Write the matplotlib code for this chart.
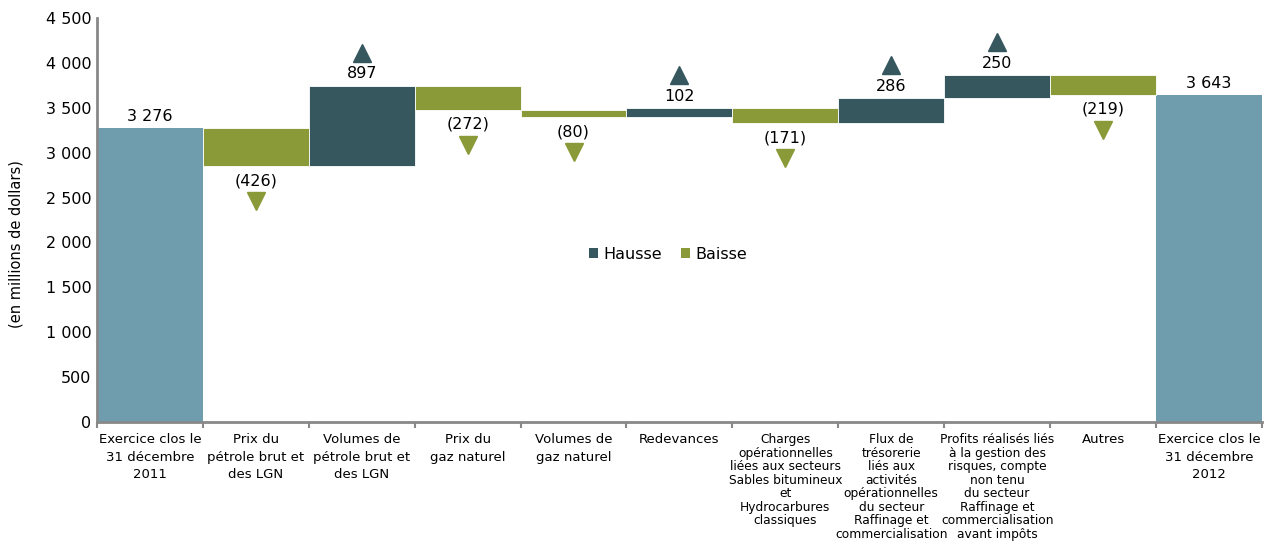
import numpy as np
import matplotlib.pyplot as plt
from matplotlib.transforms import ScaledTranslation

# Data
categories = [
    "Exercice clos le\n31 décembre\n2011",
    "Prix du\npétrole brut et\ndes LGN",
    "Volumes de\npétrole brut et\ndes LGN",
    "Prix du\ngaz naturel",
    "Volumes de\ngaz naturel",
    "Redevances",
    "Charges\nopérationnelles\nliées aux secteurs\nSables bitumineux\net\nHydrocarbures\nclassiques",
    "Flux de\ntrésorerie\nliés aux\nactivités\nopérationnelles\ndu secteur\nRaffinage et\ncommercialisation",
    "Profits réalisés liés\nà la gestion des\nrisques, compte\nnon tenu\ndu secteur\nRaffinage et\ncommercialisation\navant impôts",
    "Autres",
    "Exercice clos le\n31 décembre\n2012",
]
start_value = 3276
changes = [-426, 897, -272, -80, 102, -171, 286, 250, -219]
end_value = 3643

yticks = [0, 500, 1000, 1500, 2000, 2500, 3000, 3500, 4000, 4500]

col_total = "#6F9DAE"
col_up = "#37575F"
col_down = "#8A9A38"


def fmt(v):
    return f"{v:,}".replace(",", " ")


fig = plt.figure(figsize=(12.69, 5.42), dpi=100)
ax = fig.add_axes([0.0764, 0.2214, 0.918, 0.7454])

n = len(categories)
x = np.arange(n)

# totals
ax.bar(x[0], start_value, width=1.0, color=col_total)
ax.bar(x[-1], end_value, width=1.0, color=col_total)
for xi, v in [(x[0], start_value), (x[-1], end_value)]:
    ax.annotate(fmt(v), (xi, v), xytext=(0, 3), textcoords="offset points",
                ha="center", va="bottom", fontsize=11.5)

up_shift = ScaledTranslation(0, 33 / 100, fig.dpi_scale_trans)
down_shift = ScaledTranslation(0, -35 / 100, fig.dpi_scale_trans)

level = start_value
for i, c in enumerate(changes, start=1):
    lo, hi = min(level, level + c), max(level, level + c)
    color = col_up if c > 0 else col_down
    ax.bar(x[i], hi - lo, bottom=lo, width=1.0, color=color,
           edgecolor="white", linewidth=0.6)
    if c > 0:
        ax.annotate(fmt(c), (x[i], hi), xytext=(0, 3), textcoords="offset points",
                    ha="center", va="bottom", fontsize=11.5)
        ax.plot(x[i], hi, marker="^", markersize=13, color=col_up,
                linestyle="none", transform=ax.transData + up_shift)
    else:
        ax.annotate(f"({abs(c)})", (x[i], lo), xytext=(0, -5), textcoords="offset points",
                    ha="center", va="top", fontsize=11.5)
        ax.plot(x[i], lo, marker="v", markersize=13, color=col_down,
                linestyle="none", transform=ax.transData + down_shift)
    level += c

# legend
ax.bar([0], [0], color=col_up, label="Hausse")
ax.bar([0], [0], color=col_down, label="Baisse")
ax.legend(loc="center", bbox_to_anchor=(0.49, 0.415), ncol=2, frameon=False,
          fontsize=11.5, handlelength=0.6, handleheight=0.6, handletextpad=0.3,
          columnspacing=1.2)

ax.set_xlim(-0.5, n - 0.5)
ax.set_ylim(0, 4500)
ax.set_yticks(yticks)
ax.set_yticklabels([fmt(v) for v in yticks], fontsize=11.5)
ax.tick_params(axis="y", length=0, pad=4)

ax.set_xticks(x)
labels = ax.set_xticklabels(categories, fontsize=9.5, va="top")
for lab in labels:
    if lab.get_text().count("\n") < 4:
        lab.set_linespacing(1.45)
    else:
        lab.set_linespacing(1.05)
        lab.set_fontsize(8.8)
ax.set_xticks(np.arange(n + 1) - 0.5, minor=True)
ax.tick_params(axis="x", which="major", length=0, pad=8)
ax.tick_params(axis="x", which="minor", length=4, width=1.5, color="#888888")

for s in ["top", "right"]:
    ax.spines[s].set_visible(False)
for s in ["left", "bottom"]:
    ax.spines[s].set_color("#888888")
    ax.spines[s].set_linewidth(2)

fig.text(0.013, 0.55, "(en millions de dollars)", rotation=90, ha="center",
         va="center", fontsize=10.5)

fig.savefig("out.png", dpi=100)
